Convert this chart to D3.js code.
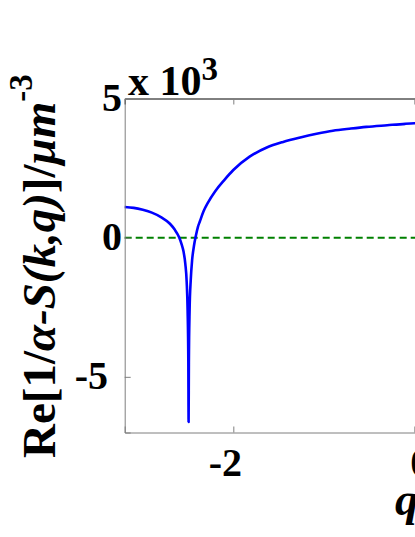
<!DOCTYPE html>
<html>
<head>
<meta charset="utf-8">
<script src="https://cdnjs.cloudflare.com/ajax/libs/d3/7.8.5/d3.min.js"></script>
<style>
  body { margin: 0; background: #fff; }
  svg { display: block; }
</style>
</head>
<body>
<div id="chart"></div>
<script>
// values (y in units of 10^3)
var qValues = [-3.2, -3.1, -3.0, -2.9, -2.8, -2.7, -2.65, -2.6, -2.57, -2.55, -2.53, -2.515, -2.505, -2.497, -2.494,
    -2.491, -2.483, -2.47, -2.455, -2.435, -2.415, -2.39, -2.37, -2.33, -2.28, -2.2, -2.1, -2.0,
    -1.82, -1.63, -1.45, -1.26, -1.08, -0.9, -0.7, -0.53, -0.3, -0.1, 0.0, 0.2];
var reValues = [1.10, 1.07, 1.00, 0.90, 0.74, 0.50, 0.30, 0.02, -0.25, -0.5, -0.95, -1.6, -2.6, -4.5, -6.62,
    -4.5, -2.6, -1.5, -0.8, -0.3, 0.05, 0.4, 0.58, 0.94, 1.26, 1.67, 2.07, 2.43,
    2.91, 3.24, 3.44, 3.60, 3.73, 3.84, 3.92, 3.98, 4.04, 4.09, 4.11, 4.13];

var xTicks = [-2, 0, 2];
var yTicks = [-5, 0, 5];
var exponentText = "3";

var svgWidth = 415;
var svgHeight = 537;

// plot box (right side runs past the picture edge)
var boxLeft = 124.7, boxRight = 704, boxTop = 98.5, boxBottom = 432.5;

var serif = "'Liberation Serif', 'Times New Roman', serif";
var axisGray = "#7f7f7f";

var svg = d3.select("#chart")
    .append("svg")
    .attr("width", svgWidth)
    .attr("height", svgHeight)
    .style("font-family", serif)
    .style("font-weight", "bold");

var xScale = d3.scaleLinear().domain([-3.2, 3.2]).range([boxLeft, boxRight]);
var yScale = d3.scaleLinear().domain([-7, 5]).range([boxBottom, boxTop]);

var points = qValues.map(function(q, i) { return [q, reValues[i]]; });

// green dashed zero line
svg.append("line")
    .attr("x1", xScale(-3.2))
    .attr("x2", xScale(3.2))
    .attr("y1", yScale(0))
    .attr("y2", yScale(0))
    .attr("stroke", "#008000")
    .attr("stroke-width", 2)
    .attr("stroke-dasharray", "7,4");

// blue curve
var line = d3.line()
    .x(function(d) { return xScale(d[0]); })
    .y(function(d) { return yScale(d[1]); })
    .curve(d3.curveMonotoneX);

svg.append("path")
    .datum(points)
    .attr("d", line)
    .attr("fill", "none")
    .attr("stroke", "#0000ff")
    .attr("stroke-width", 2.6)
    .attr("stroke-linejoin", "round");

// axes, matlab style ticks pointing inwards
var bottomAxis = d3.axisBottom(xScale).tickValues(xTicks).tickSize(-6).tickFormat("");
var topAxis = d3.axisTop(xScale).tickValues(xTicks).tickSize(-6).tickFormat("");
var leftAxis = d3.axisLeft(yScale).tickValues(yTicks).tickSize(-6).tickFormat("");

var gBottom = svg.append("g").attr("transform", `translate(0, ${boxBottom})`).call(bottomAxis);
var gTop = svg.append("g").attr("transform", `translate(0, ${boxTop})`).call(topAxis);
var gLeft = svg.append("g").attr("transform", `translate(${boxLeft}, 0)`).call(leftAxis);

gBottom.selectAll("path, line").attr("stroke", axisGray);
gLeft.selectAll("path, line").attr("stroke", axisGray);
gTop.select("path").attr("stroke", "#000");
gTop.selectAll("line").attr("stroke", axisGray);

// tick labels
svg.append("g")
    .selectAll("text")
    .data(xTicks)
    .enter()
    .append("text")
    .attr("x", function(d) { return xScale(d) + (d < 0 ? -8 : 6); })
    .attr("y", 476)
    .attr("text-anchor", "middle")
    .style("font-size", "40px")
    .text(function(d) { return d; });

svg.append("g")
    .selectAll("text")
    .data(yTicks)
    .enter()
    .append("text")
    .attr("x", function(d) { return d < 0 ? 108 : 122; })
    .attr("y", function(d) { return yScale(d) + 12; })
    .attr("text-anchor", "end")
    .style("font-size", "40px")
    .text(function(d) { return d; });

// x 10^3 multiplier
var mult = svg.append("text")
    .attr("x", 128)
    .attr("y", 95)
    .style("font-size", "42px");
mult.append("tspan").text("x 10");
mult.append("tspan")
    .attr("dy", -15)
    .style("font-size", "33px")
    .text(exponentText);

// y axis label
var ylab = svg.append("text")
    .attr("transform", "translate(55,458) rotate(-90)")
    .style("font-size", "47px");
ylab.append("tspan").text("Re[1/");
ylab.append("tspan").style("font-style", "italic").text("α-S(k,q)");
ylab.append("tspan").text("]/");
ylab.append("tspan").style("font-style", "italic").text("μm");
ylab.append("tspan")
    .attr("dy", -23)
    .style("font-size", "33px")
    .text("-3");

// x axis label (rest is cut off by the picture edge)
svg.append("text")
    .attr("x", 395)
    .attr("y", 515)
    .style("font-size", "47px")
    .style("font-style", "italic")
    .text("q");
</script>
</body>
</html>
